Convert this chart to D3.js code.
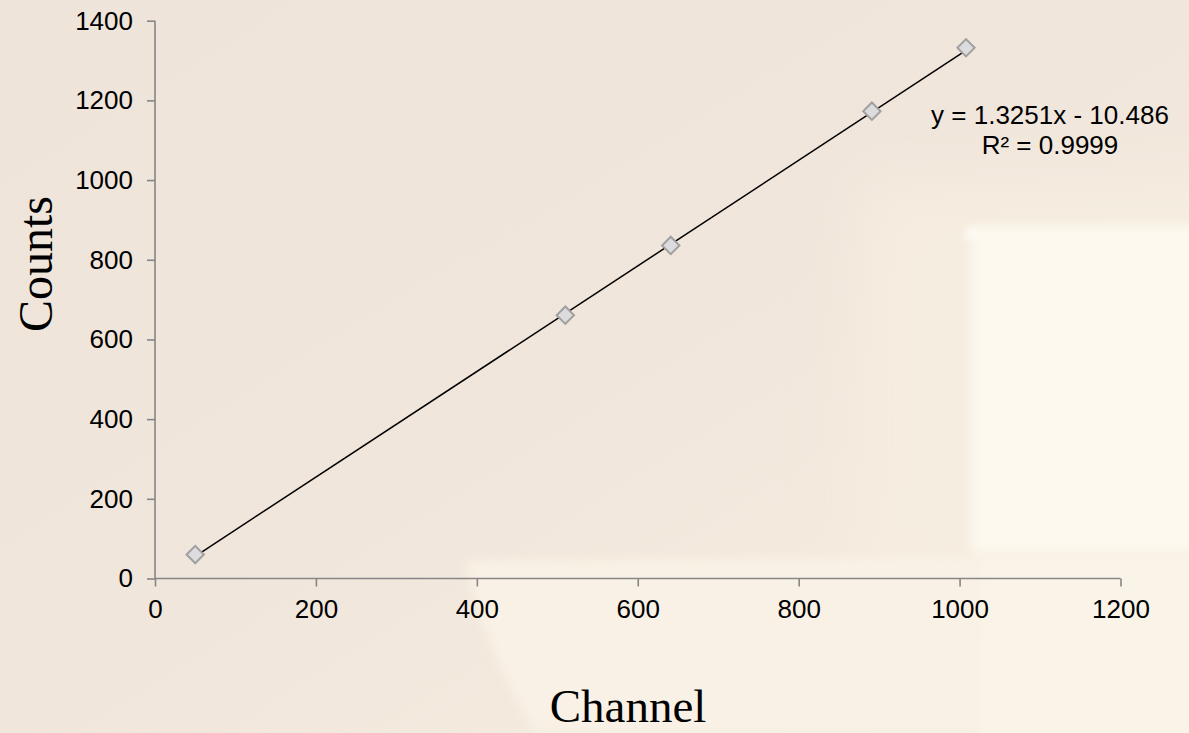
<!DOCTYPE html>
<html>
<head>
<meta charset="utf-8">
<script src="https://cdn.jsdelivr.net/npm/d3@7"></script>
<style>
html,body{margin:0;padding:0;background:#EEE4DA;}
svg{display:block;}
</style>
</head>
<body>
<svg id="chart" width="1189" height="733"></svg>
<script>
// ---- data ----
const channel = [50, 510, 641, 891, 1008];
const counts  = [60, 661, 836, 1173, 1332];
const xTicks = [0, 200, 400, 600, 800, 1000, 1200];
const yTicks = [0, 200, 400, 600, 800, 1000, 1200, 1400];
const slope = 1.3251, intercept = -10.486;
const eqLines = ["y = 1.3251x - 10.486", "R\u00B2 = 0.9999"];
const xTitle = "Channel", yTitle = "Counts";

const W = 1189, H = 733;
const svg = d3.select("#chart");
const defs = svg.append("defs");

// background
const bg = defs.append("linearGradient").attr("id","bgGrad")
  .attr("x1","0").attr("y1","0").attr("x2","1").attr("y2","1");
bg.append("stop").attr("offset","0").attr("stop-color","#EEE4DA");
bg.append("stop").attr("offset","0.5").attr("stop-color","#F0E6DB");
bg.append("stop").attr("offset","1").attr("stop-color","#F8EFE3");
svg.append("rect").attr("width",W).attr("height",H).attr("fill","url(#bgGrad)");

const blur = defs.append("filter").attr("id","soft").attr("x","-20%").attr("y","-20%").attr("width","140%").attr("height","140%");
blur.append("feGaussianBlur").attr("stdDeviation",5);
const blur2 = defs.append("filter").attr("id","soft2").attr("x","-50%").attr("y","-50%").attr("width","200%").attr("height","200%");
blur2.append("feGaussianBlur").attr("stdDeviation",30);

// right-side glow
svg.append("rect").attr("x",860).attr("y",180).attr("width",400).attr("height",420)
  .attr("fill","#F6EDE1").attr("filter","url(#soft2)");
// bottom curved lighter region
svg.append("path")
  .attr("d","M465,560 L980,556 L980,733 L535,733 Q480,640 465,560 Z")
  .attr("fill","#F9F1E5").attr("filter","url(#soft)");
svg.append("rect").attr("x",980).attr("y",556).attr("width",220).attr("height",190)
  .attr("fill","#FAF4E8").attr("filter","url(#soft)");
// bright panel
svg.append("rect").attr("x",972).attr("y",226).attr("width",240).attr("height",326)
  .attr("fill","#FDF9EE").attr("filter","url(#soft)");
svg.append("circle").attr("cx",971).attr("cy",234).attr("r",6).attr("fill","#FFFFFF").attr("opacity",0.8).attr("filter","url(#soft)");

// ---- scales ----
const x = d3.scaleLinear().domain([0,1200]).range([155,1120.5]);
const y = d3.scaleLinear().domain([0,1400]).range([578.5,20.7]);

const axisColor = "#868686";
const font = "'Liberation Sans', Arial, sans-serif";

const gx = svg.append("g").attr("transform",`translate(0,${y(0)})`)
  .call(d3.axisBottom(x).tickValues(xTicks).tickSize(8).tickPadding(13).tickFormat(d3.format("d")));
const gy = svg.append("g").attr("transform",`translate(${x(0)},0)`)
  .call(d3.axisLeft(y).tickValues(yTicks).tickSize(8).tickPadding(14).tickFormat(d3.format("d")));
[gx,gy].forEach(g=>{
  g.select(".domain").attr("stroke",axisColor).attr("stroke-width",1.6);
  g.selectAll(".tick line").attr("stroke",axisColor).attr("stroke-width",1.6);
  g.selectAll(".tick text").attr("fill","#000").attr("font-family",font).attr("font-size",26);
});
gx.select(".domain").attr("d",`M${x(0)},0H${x(1200)}`);
gy.select(".domain").attr("d",`M0,${y(1400)}V${y(0)}`);

// trendline
const xmin = d3.min(channel), xmax = d3.max(channel);
svg.append("line")
  .attr("x1",x(xmin)).attr("y1",y(slope*xmin+intercept))
  .attr("x2",x(xmax)).attr("y2",y(slope*xmax+intercept))
  .attr("stroke","#000").attr("stroke-width",1.5);

// markers
const sym = d3.symbol().type(d3.symbolSquare).size(150);
svg.append("g").selectAll("path").data(channel.map((c,i)=>[c,counts[i]])).join("path")
  .attr("d",sym)
  .attr("transform",d=>`translate(${x(d[0])},${y(d[1])}) rotate(45)`)
  .attr("fill","#DCDCDE").attr("stroke","#A0A0A0").attr("stroke-width",2);

// equation
svg.append("text").attr("x",1050).attr("y",124).attr("text-anchor","middle")
  .attr("font-family",font).attr("font-size",26).attr("fill","#000").text(eqLines[0]);
svg.append("text").attr("x",1050).attr("y",154).attr("text-anchor","middle")
  .attr("font-family",font).attr("font-size",26).attr("fill","#000").text(eqLines[1]);

// axis titles
const serif = "'Liberation Serif','Times New Roman',serif";
svg.append("text").attr("x",628).attr("y",722).attr("text-anchor","middle")
  .attr("font-family",serif).attr("font-size",47).attr("fill","#000").text(xTitle);
svg.append("text").attr("transform","translate(52,264) rotate(-90)").attr("text-anchor","middle")
  .attr("font-family",serif).attr("font-size",48).attr("fill","#000").text(yTitle);
</script>
</body>
</html>
